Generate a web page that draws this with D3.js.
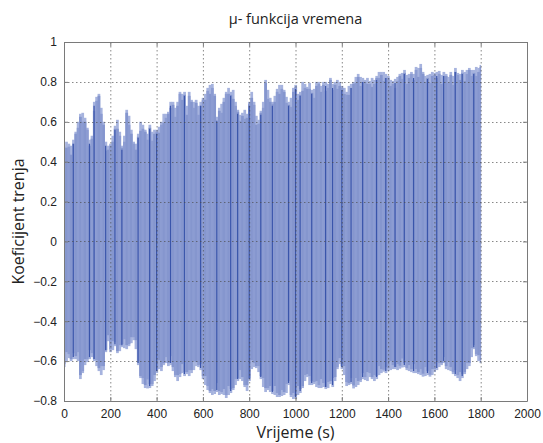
<!DOCTYPE html>
<html><head><meta charset="utf-8">
<script src="https://cdn.jsdelivr.net/npm/d3@7"></script>
<style>body{margin:0;background:#fff}</style></head>
<body><svg id="chart" width="543" height="443"></svg>
<script>
// ---- data ----
const timeS = [0,10,20,30,40,50,60,70,80,90,100,110,120,130,140,150,160,170,180,190,200,210,220,230,240,250,260,270,280,290,300,310,320,330,340,350,360,370,380,390,400,410,420,430,440,450,460,470,480,490,500,510,520,530,540,550,560,570,580,590,600,610,620,630,640,650,660,670,680,690,700,710,720,730,740,750,760,770,780,790,800,810,820,830,840,850,860,870,880,890,900,910,920,930,940,950,960,970,980,990,1000,1010,1020,1030,1040,1050,1060,1070,1080,1090,1100,1110,1120,1130,1140,1150,1160,1170,1180,1190,1200,1210,1220,1230,1240,1250,1260,1270,1280,1290,1300,1310,1320,1330,1340,1350,1360,1370,1380,1390,1400,1410,1420,1430,1440,1450,1460,1470,1480,1490,1500,1510,1520,1530,1540,1550,1560,1570,1580,1590,1600,1610,1620,1630,1640,1650,1660,1670,1680,1690,1700,1710,1720,1730,1740,1750,1760,1770,1780,1790,1800];
const muUpper = [0.48,0.50,0.49,0.48,0.51,0.55,0.60,0.64,0.645,0.62,0.57,0.51,0.53,0.70,0.725,0.74,0.67,0.60,0.50,0.48,0.49,0.53,0.58,0.61,0.55,0.48,0.53,0.66,0.63,0.56,0.50,0.49,0.54,0.60,0.585,0.56,0.54,0.585,0.55,0.56,0.56,0.575,0.60,0.64,0.64,0.65,0.70,0.70,0.67,0.70,0.75,0.74,0.75,0.68,0.75,0.71,0.70,0.71,0.68,0.70,0.72,0.74,0.77,0.785,0.79,0.74,0.625,0.67,0.69,0.72,0.75,0.77,0.75,0.76,0.70,0.66,0.635,0.645,0.66,0.64,0.70,0.75,0.70,0.63,0.61,0.655,0.70,0.81,0.76,0.72,0.70,0.73,0.765,0.785,0.785,0.76,0.725,0.70,0.72,0.77,0.785,0.74,0.75,0.80,0.79,0.775,0.795,0.76,0.765,0.80,0.80,0.78,0.80,0.80,0.79,0.82,0.79,0.80,0.81,0.80,0.78,0.77,0.75,0.78,0.79,0.80,0.825,0.84,0.825,0.82,0.81,0.82,0.805,0.82,0.81,0.83,0.85,0.85,0.85,0.84,0.83,0.81,0.805,0.815,0.825,0.84,0.845,0.86,0.835,0.84,0.85,0.84,0.875,0.87,0.89,0.85,0.83,0.835,0.84,0.85,0.845,0.85,0.855,0.835,0.85,0.84,0.825,0.85,0.83,0.87,0.845,0.84,0.86,0.85,0.86,0.87,0.86,0.86,0.875,0.87,0.885];
const muLower = [-0.63,-0.60,-0.585,-0.60,-0.59,-0.59,-0.60,-0.69,-0.66,-0.62,-0.605,-0.59,-0.58,-0.60,-0.625,-0.65,-0.67,-0.645,-0.555,-0.50,-0.555,-0.545,-0.525,-0.56,-0.55,-0.53,-0.535,-0.54,-0.525,-0.51,-0.495,-0.54,-0.62,-0.685,-0.715,-0.735,-0.737,-0.735,-0.725,-0.70,-0.66,-0.64,-0.65,-0.62,-0.61,-0.625,-0.62,-0.65,-0.68,-0.70,-0.68,-0.66,-0.675,-0.665,-0.675,-0.66,-0.645,-0.625,-0.63,-0.645,-0.69,-0.72,-0.745,-0.76,-0.77,-0.765,-0.755,-0.77,-0.765,-0.77,-0.785,-0.77,-0.76,-0.745,-0.72,-0.70,-0.69,-0.70,-0.73,-0.75,-0.70,-0.64,-0.63,-0.635,-0.655,-0.69,-0.73,-0.755,-0.745,-0.755,-0.765,-0.77,-0.78,-0.78,-0.775,-0.77,-0.76,-0.72,-0.78,-0.79,-0.79,-0.77,-0.76,-0.735,-0.70,-0.68,-0.72,-0.72,-0.715,-0.73,-0.735,-0.735,-0.73,-0.74,-0.735,-0.715,-0.73,-0.70,-0.64,-0.615,-0.64,-0.67,-0.725,-0.72,-0.715,-0.737,-0.73,-0.72,-0.705,-0.69,-0.695,-0.70,-0.68,-0.69,-0.70,-0.69,-0.67,-0.66,-0.653,-0.66,-0.65,-0.645,-0.64,-0.64,-0.645,-0.638,-0.632,-0.63,-0.645,-0.65,-0.655,-0.66,-0.66,-0.665,-0.67,-0.678,-0.675,-0.67,-0.678,-0.67,-0.655,-0.645,-0.63,-0.62,-0.61,-0.64,-0.645,-0.65,-0.665,-0.675,-0.685,-0.70,-0.685,-0.665,-0.64,-0.625,-0.58,-0.54,-0.575,-0.60,-0.61];
const darkTimes = [40,110,130,180,220,250,320,370,400,460,520,590,660,720,750,800,850,900,970,1000,1020,1070,1130,1160,1200,1240,1290,1350,1390,1430,1470,1510,1570,1610,1640,1690,1720,1770];
const xTicks = [0,200,400,600,800,1000,1200,1400,1600,1800,2000];
const yTicks = [-0.8,-0.6,-0.4,-0.2,0,0.2,0.4,0.6,0.8,1];
const titleText = "\u03bc- funkcija vremena";
const xLabel = "Vrijeme (s)";
const yLabel = "Koeficijent trenja";

// ---- layout ----
const W = 543, H = 443;
const m = {left: 64, right: 16, top: 42, bottom: 42};
const svg = d3.select("#chart");
const x = d3.scaleLinear().domain([0, 2000]).range([m.left, W - m.right]);
const y = d3.scaleLinear().domain([-0.8, 1]).range([H - m.bottom, m.top]);

const g = svg.append("g");
const step = x(10) - x(0);
const colX = (t) => Math.max(x(t) - step / 2, x(0));
const colW = (t) => Math.min(x(t) + step / 2, x(1800)) - colX(t) + 0.4;

// signal band: light outer column per sample
g.selectAll("rect.outer").data(timeS).join("rect")
  .attr("class", "outer")
  .attr("x", colX).attr("width", colW)
  .attr("y", (t, i) => y(muUpper[i]))
  .attr("height", (t, i) => y(muLower[i]) - y(muUpper[i]))
  .attr("fill", "#a6b3de");
// denser inner part
const inset = [2, 6, 3, 9, 4];
g.selectAll("rect.inner").data(timeS).join("rect")
  .attr("class", "inner")
  .attr("x", colX).attr("width", colW)
  .attr("y", (t, i) => y(muUpper[i]) + inset[i % 5])
  .attr("height", (t, i) => Math.max(0, y(muLower[i]) - y(muUpper[i]) - inset[i % 5] - inset[(i + 2) % 5]))
  .attr("fill", (t, i) => (i % 2 ? "#8596ce" : "#8c9cd2"));

// darker signal lines
g.selectAll("line.dark").data(darkTimes).join("line")
  .attr("class", "dark")
  .attr("x1", (t) => x(t)).attr("x2", (t) => x(t))
  .attr("y1", (t) => y(muUpper[timeS.indexOf(t)]) + 4)
  .attr("y2", (t) => y(muLower[timeS.indexOf(t)]) - 2)
  .attr("stroke", "#3a55ab").attr("stroke-width", 1.2);

// grid
const grid = svg.append("g").attr("stroke", "#4a4a4a").attr("stroke-width", 1)
  .attr("stroke-dasharray", "1.5,2.5").attr("opacity", 0.65);
grid.selectAll("line.gx").data(xTicks.slice(1, -1)).join("line")
  .attr("x1", (d) => x(d) + 0.5).attr("x2", (d) => x(d) + 0.5)
  .attr("y1", m.top).attr("y2", H - m.bottom);
grid.selectAll("line.gy").data(yTicks.slice(1, -1)).join("line")
  .attr("y1", (d) => Math.round(y(d)) + 0.5).attr("y2", (d) => Math.round(y(d)) + 0.5)
  .attr("x1", m.left).attr("x2", W - m.right);

// axes (MATLAB style box, inward ticks)
svg.append("g").attr("transform", `translate(0,${H - m.bottom})`)
  .call(d3.axisBottom(x).tickValues(xTicks).tickFormat(d3.format("d")).tickSizeInner(-4).tickSizeOuter(0).tickPadding(8));
svg.append("g").attr("transform", `translate(${m.left},0)`)
  .call(d3.axisLeft(y).tickValues(yTicks).tickFormat((d) => d3.format("")(+d.toFixed(1))).tickSizeInner(-4).tickSizeOuter(0).tickPadding(7));
svg.append("g").attr("transform", `translate(0,${m.top})`)
  .call(d3.axisTop(x).tickValues(xTicks).tickFormat("").tickSizeInner(-4).tickSizeOuter(0));
svg.append("g").attr("transform", `translate(${W - m.right},0)`)
  .call(d3.axisRight(y).tickValues(yTicks).tickFormat("").tickSizeInner(-4).tickSizeOuter(0));
svg.selectAll(".domain").attr("stroke", "#7a7a7a");
svg.selectAll(".tick line").attr("stroke", "#7a7a7a");
svg.selectAll(".tick text").attr("font-family", "Liberation Sans, Arial, sans-serif").attr("font-size", 12).attr("fill", "#222");

// titles
svg.append("text").attr("x", (x(0) + x(2000)) / 2).attr("y", 24).attr("text-anchor", "middle")
  .attr("font-family", "Open Sans, sans-serif").attr("font-size", 14.5).attr("fill", "#222").text(titleText);
svg.append("text").attr("x", (x(0) + x(2000)) / 2).attr("y", 438).attr("text-anchor", "middle")
  .attr("font-family", "Open Sans, sans-serif").attr("font-size", 16).attr("fill", "#222").text(xLabel);
svg.append("text").attr("transform", `translate(24,${(y(-0.8) + y(1)) / 2}) rotate(-90)`).attr("text-anchor", "middle")
  .attr("font-family", "Open Sans, sans-serif").attr("font-size", 16).attr("fill", "#222").text(yLabel);
</script></body></html>
